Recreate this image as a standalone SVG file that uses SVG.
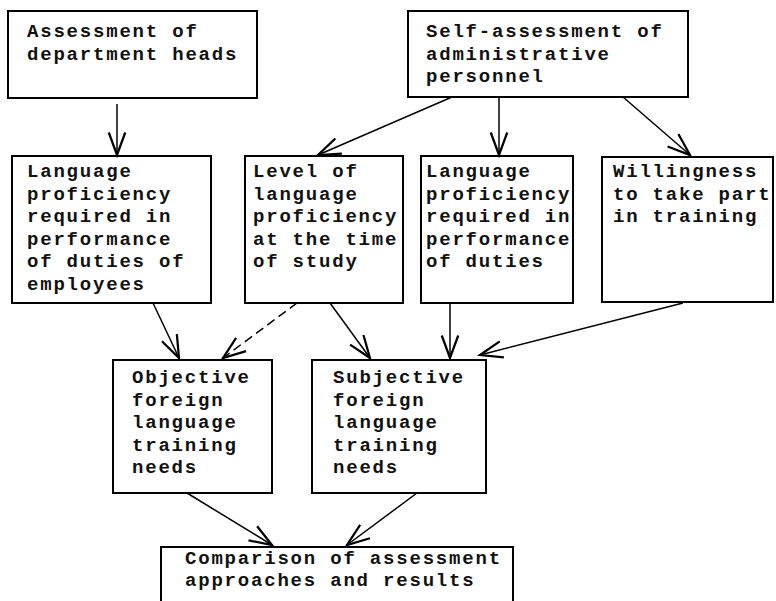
<svg xmlns="http://www.w3.org/2000/svg" width="776" height="601" viewBox="0 0 776 601">
<style>
.box{fill:#fff;stroke:#000;stroke-width:2}
.t{font-family:"Liberation Mono","Courier New",monospace;font-size:19px;letter-spacing:1.8px;font-weight:bold;fill:#111}
.c{fill:none;stroke:#000;stroke-width:1.5}
.d{stroke-dasharray:9 5}
</style>
<defs>
<marker id="ah" markerUnits="userSpaceOnUse" markerWidth="30" markerHeight="30" viewBox="-16 -8 20 16" refX="0" refY="0" orient="auto">
<path d="M-15,-5.5 L0,0 L-15,5.5" fill="none" stroke="#000" stroke-width="1.5"/>
</marker>
</defs>
<rect width="776" height="601" fill="#fff"/>
<g id="n1">
<rect class="box" x="8" y="11" width="249" height="87"/>
<text class="t" x="27" y="37">Assessment of</text>
<text class="t" x="27" y="59.5">department heads</text>
</g>
<g id="n2">
<rect class="box" x="408" y="11" width="280" height="86"/>
<text class="t" x="426" y="37">Self-assessment of</text>
<text class="t" x="426" y="59.5">administrative</text>
<text class="t" x="426" y="82">personnel</text>
</g>
<g id="n3">
<rect class="box" x="12" y="156" width="199" height="147"/>
<text class="t" x="27" y="177">Language</text>
<text class="t" x="27" y="199.5">proficiency</text>
<text class="t" x="27" y="222">required in</text>
<text class="t" x="27" y="244.5">performance</text>
<text class="t" x="27" y="267">of duties of</text>
<text class="t" x="27" y="289.5">employees</text>
</g>
<g id="n4">
<rect class="box" x="245" y="156" width="158" height="147"/>
<text class="t" x="253" y="177">Level of</text>
<text class="t" x="253" y="199.5">language</text>
<text class="t" x="253" y="222">proficiency</text>
<text class="t" x="253" y="244.5">at the time</text>
<text class="t" x="253" y="267">of study</text>
</g>
<g id="n5">
<rect class="box" x="421" y="156" width="152" height="147"/>
<text class="t" x="426" y="177">Language</text>
<text class="t" x="426" y="199.5">proficiency</text>
<text class="t" x="426" y="222">required in</text>
<text class="t" x="426" y="244.5">performance</text>
<text class="t" x="426" y="267">of duties</text>
</g>
<g id="n6">
<rect class="box" x="602" y="157" width="171" height="145"/>
<text class="t" x="613" y="177">Willingness</text>
<text class="t" x="613" y="199.5">to take part</text>
<text class="t" x="613" y="222">in training</text>
</g>
<g id="n7">
<rect class="box" x="113" y="360" width="159" height="133"/>
<text class="t" x="132" y="383">Objective</text>
<text class="t" x="132" y="405.5">foreign</text>
<text class="t" x="132" y="428">language</text>
<text class="t" x="132" y="450.5">training</text>
<text class="t" x="132" y="473">needs</text>
</g>
<g id="n8">
<rect class="box" x="312" y="360" width="174" height="133"/>
<text class="t" x="333" y="383">Subjective</text>
<text class="t" x="333" y="405.5">foreign</text>
<text class="t" x="333" y="428">language</text>
<text class="t" x="333" y="450.5">training</text>
<text class="t" x="333" y="473">needs</text>
</g>
<g id="n9">
<rect class="box" x="161" y="547" width="352" height="70"/>
<text class="t" x="185" y="564">Comparison of assessment</text>
<text class="t" x="185" y="586">approaches and results</text>
</g>
<g id="connectors">
<line class="c" x1="117" y1="104" x2="117" y2="155" marker-end="url(#ah)"/>
<line class="c" x1="452" y1="97" x2="318" y2="155" marker-end="url(#ah)"/>
<line class="c" x1="499" y1="97" x2="499" y2="155" marker-end="url(#ah)"/>
<line class="c" x1="623" y1="97" x2="690" y2="155" marker-end="url(#ah)"/>
<line class="c" x1="153" y1="303" x2="179" y2="358" marker-end="url(#ah)"/>
<line class="c d" x1="297" y1="303" x2="223" y2="358" marker-end="url(#ah)"/>
<line class="c" x1="330" y1="303" x2="370" y2="358" marker-end="url(#ah)"/>
<line class="c" x1="450" y1="303" x2="450" y2="358" marker-end="url(#ah)"/>
<line class="c" x1="683" y1="303" x2="480" y2="355" marker-end="url(#ah)"/>
<line class="c" x1="187" y1="493" x2="272" y2="545" marker-end="url(#ah)"/>
<line class="c" x1="417" y1="493" x2="347" y2="545" marker-end="url(#ah)"/>
</g>
</svg>
